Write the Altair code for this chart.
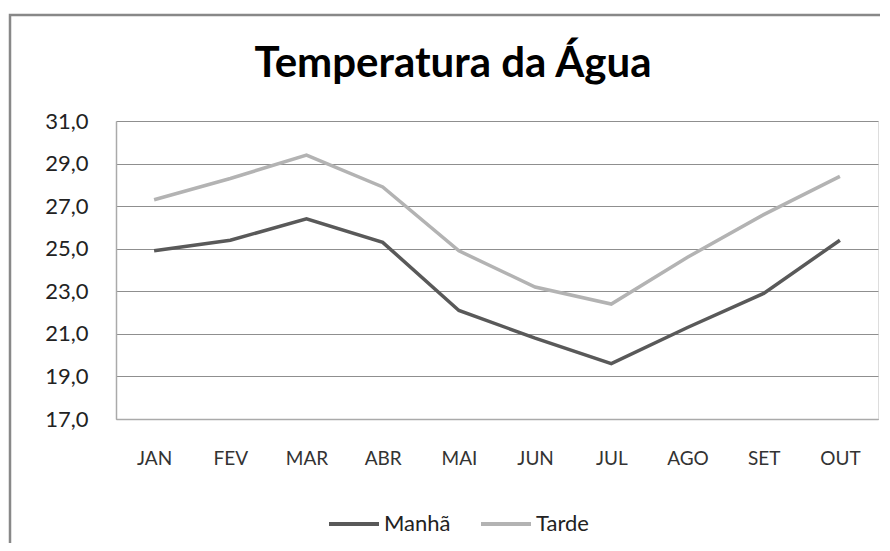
import altair as alt
import pandas as pd

months = ["JAN", "FEV", "MAR", "ABR", "MAI", "JUN", "JUL", "AGO", "SET", "OUT"]
manha = [24.9, 25.4, 26.4, 25.3, 22.1, 20.8, 19.6, 21.3, 22.9, 25.4]
tarde = [27.3, 28.3, 29.4, 27.9, 24.9, 23.2, 22.4, 24.6, 26.6, 28.4]
series_names = ["Manhã", "Tarde"]
series_colors = ["#595959", "#b3b3b3"]
y_ticks = [17, 19, 21, 23, 25, 27, 29, 31]

rows = []
for name, vals in zip(series_names, [manha, tarde]):
    for m, v in zip(months, vals):
        rows.append({"mes": m, "temp": v, "serie": name})
df = pd.DataFrame(rows)

lines = alt.Chart(df).mark_line(strokeWidth=3.5).encode(
    x=alt.X("mes:N", sort=months, title=None,
            scale=alt.Scale(type="point", padding=0.5),
            axis=alt.Axis(labelAngle=0, labelFontSize=19, labelColor="#333333",
                          labelFont="Lato", labelPadding=30, ticks=False,
                          domainColor="#aaaaaa", domainWidth=1.5, grid=False)),
    y=alt.Y("temp:Q", title=None,
            scale=alt.Scale(domain=[17, 31], nice=False, zero=False),
            axis=alt.Axis(values=y_ticks, labelExpr="replace(format(datum.value, '.1f'), '.', ',')",
                          labelFontSize=22, labelFont="Lato", labelColor="#222222",
                          labelPadding=28, ticks=False, domainColor="#aaaaaa", domainWidth=1.5,
                          grid=True, gridColor="#8f8f8f", gridWidth=1)),
    color=alt.Color("serie:N", sort=series_names,
                    scale=alt.Scale(domain=series_names, range=series_colors),
                    legend=alt.Legend(title=None, orient="none", direction="horizontal",
                                      legendX=211, legendY=376,
                                      symbolType="stroke", symbolSize=2500, symbolStrokeWidth=4,
                                      labelFontSize=22, labelFont="Lato", labelColor="#222222",
                                      labelOffset=3, columnPadding=22)),
)

border = alt.Chart(pd.DataFrame({"a": [0]})).mark_rect(
    filled=False, stroke="#888888", strokeWidth=2.5
).encode(
    x=alt.value(-106), x2=alt.value(900), y=alt.value(-106), y2=alt.value(700)
)

chart = alt.layer(border, lines).properties(
    width=762, height=298,
    title=alt.TitleParams("Temperatura da Água", font="Lato", fontSize=42, fontWeight="bold",
                          color="#000000", anchor="middle", dx=-44, offset=-114,
                          baseline="bottom"),
    autosize=alt.AutoSizeParams(type="none"),
    padding={"left": 108, "top": 113, "right": 2, "bottom": 124},
).configure_view(stroke=None).configure(background="white")

chart.save("out.html", embed_options={"renderer": "svg", "actions": False})
